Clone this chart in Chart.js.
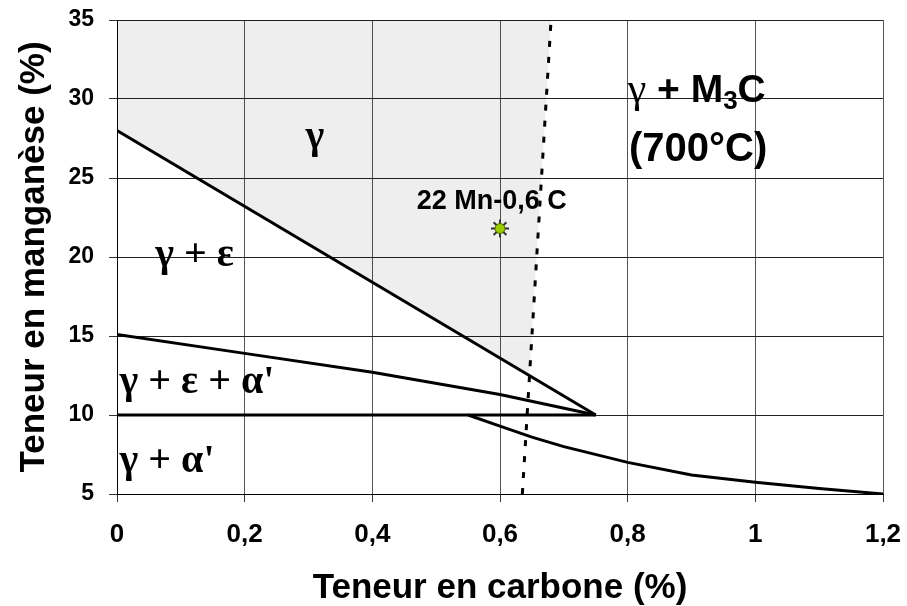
<!DOCTYPE html>
<html>
<head>
<meta charset="utf-8">
<script src="https://cdn.jsdelivr.net/npm/chart.js@4/dist/chart.umd.min.js"></script>
<style>
html, body { margin: 0; padding: 0; background: #fff; }
#wrap { width: 907px; height: 606px; }
</style>
</head>
<body>
<div id="wrap"><canvas id="chart" width="907" height="606"></canvas></div>
<script>
// limites du diagramme : teneur en carbone (%) / teneur en manganese (%)
var gammaLimitC = [0, 0.75];
var gammaLimitMn = [28, 10];
var epsLimitC = [0, 0.2, 0.4, 0.6, 0.75];
var epsLimitMn = [15.1, 13.9, 12.7, 11.3, 10];
var alphaLimitC = [0, 0.75];
var alphaLimitMn = [10, 10];
var lowerC = [0.55, 0.6, 0.65, 0.7, 0.8, 0.9, 1.0, 1.1, 1.2];
var lowerMn = [10, 9.3, 8.6, 8.0, 7.0, 6.2, 5.75, 5.35, 5.0];
var carbideC = [0.635, 0.68];
var carbideMn = [5, 35];
var gammaZoneC = [0, 0.646, 0.68];
var gammaZoneMn = [28, 12.5, 35];
var steelC = [0.6];
var steelMn = [21.8];
var xTicks = ['0', '0,2', '0,4', '0,6', '0,8', '1', '1,2'];
var yTicks = ['5', '10', '15', '20', '25', '30', '35'];

var SANS = '"Liberation Sans", Arial, sans-serif';
var SERIF = '"Liberation Serif", "Times New Roman", serif';

function pts(xs, ys) {
  return xs.map(function(x, i) { return {x: x, y: ys[i]}; });
}

function line(xs, ys, extra) {
  var ds = {
    data: pts(xs, ys),
    showLine: true,
    borderColor: '#000',
    borderWidth: 3,
    pointRadius: 0,
    tension: 0,
    fill: false
  };
  for (var k in extra) ds[k] = extra[k];
  return ds;
}

// no extra room for the end labels: the plot box is fixed by layout.padding
function noLabelPadding(s) {
  s.paddingTop = 0;
  s.paddingBottom = 0;
  s.paddingLeft = 0;
  s.paddingRight = 0;
}

var labels = [
  {c: 0.31, mn: 26.9, align: 'center', parts: [{t: 'γ', font: 'bold 40px ' + SERIF}]},
  {c: 0.06, mn: 19.4, align: 'left', parts: [{t: 'γ + ε', font: 'bold 40px ' + SERIF}]},
  {c: 0.004, mn: 11.4, align: 'left', parts: [{t: "γ + ε + α'", font: 'bold 40px ' + SERIF}]},
  {c: 0.004, mn: 6.4, align: 'left', parts: [{t: "γ + α'", font: 'bold 40px ' + SERIF}]},
  {c: 0.587, mn: 23.05, align: 'center', parts: [{t: '22 Mn-0,6 C', font: 'bold 27px ' + SANS}]},
  {c: 0.8, mn: 29.8, align: 'left', parts: [
    {t: 'γ', font: '42px ' + SERIF},
    {t: ' + M', font: 'bold 39px ' + SANS},
    {t: '3', font: 'bold 26px ' + SANS, dy: 7},
    {t: 'C', font: 'bold 39px ' + SANS}
  ]},
  {c: 0.802, mn: 26.05, align: 'left', parts: [{t: '(700°C)', font: 'bold 40px ' + SANS}]}
];

var textPlugin = {
  id: 'phaseText',
  afterDatasetsDraw: function(chart) {
    var ctx = chart.ctx;
    var xs = chart.scales.x, ys = chart.scales.y;
    ctx.save();
    ctx.fillStyle = '#000';
    ctx.textBaseline = 'alphabetic';
    ctx.textAlign = 'left';
    labels.forEach(function(l) {
      var x = xs.getPixelForValue(l.c);
      var y = ys.getPixelForValue(l.mn);
      var total = 0;
      l.parts.forEach(function(p) { ctx.font = p.font; total += ctx.measureText(p.t).width; });
      if (l.align === 'center') x -= total / 2;
      l.parts.forEach(function(p) {
        ctx.font = p.font;
        ctx.fillText(p.t, x, y + (p.dy || 0));
        x += ctx.measureText(p.t).width;
      });
    });
    ctx.restore();
  }
};

new Chart(document.getElementById('chart'), {
  type: 'scatter',
  data: {
    datasets: [
      {
        data: pts(steelC, steelMn),
        pointStyle: 'circle',
        pointRadius: 5,
        pointBackgroundColor: '#99cc00',
        pointBorderColor: '#4d6600',
        pointBorderWidth: 1
      },
      {
        data: pts(steelC, steelMn),
        pointStyle: 'star',
        pointRadius: 9,
        pointBorderColor: '#333',
        pointBorderWidth: 2
      },
      line(carbideC, carbideMn, {borderDash: [6, 10], borderWidth: 3}),
      line(gammaLimitC, gammaLimitMn),
      line(epsLimitC, epsLimitMn),
      line(alphaLimitC, alphaLimitMn),
      line(lowerC, lowerMn),
      line(gammaZoneC, gammaZoneMn, {borderWidth: 0, borderColor: 'rgba(0,0,0,0)', fill: 'end', backgroundColor: 'rgba(0,0,0,0.065)'})
    ]
  },
  options: {
    responsive: false,
    animation: false,
    devicePixelRatio: 1,
    layout: {padding: {top: 20, right: 24, left: 0, bottom: 0}},
    plugins: {legend: {display: false}, tooltip: {enabled: false}},
    scales: {
      x: {
        type: 'linear',
        min: 0,
        max: 1.2,
        ticks: {
          stepSize: 0.2,
          color: '#000',
          padding: 17,
          maxRotation: 0,
          font: {family: SANS, size: 26, weight: 'bold'},
          callback: function(v, i) { return xTicks[i]; }
        },
        grid: {color: '#555', tickLength: 8, tickColor: '#333'},
        border: {color: '#000', width: 1},
        title: {
          display: true,
          text: 'Teneur en carbone (%)',
          color: '#000',
          font: {family: SANS, size: 35, weight: 'bold', lineHeight: 1},
          padding: {top: 0, bottom: 0}
        },
        afterFit: function(s) { s.height = 112; noLabelPadding(s); }
      },
      y: {
        type: 'linear',
        min: 5,
        max: 35,
        ticks: {
          stepSize: 5,
          color: '#000',
          padding: 15,
          font: {family: SANS, size: 23, weight: 'bold'},
          callback: function(v, i) { return yTicks[i]; }
        },
        grid: {color: '#222', tickLength: 8, tickColor: '#333'},
        border: {color: '#000', width: 1},
        title: {
          display: true,
          text: 'Teneur en manganèse (%)',
          color: '#000',
          font: {family: SANS, size: 35, weight: 'bold', lineHeight: 1},
          padding: {top: 17, bottom: 0}
        },
        afterFit: function(s) { s.width = 117; noLabelPadding(s); }
      }
    }
  },
  plugins: [textPlugin]
});
</script>
</body>
</html>
